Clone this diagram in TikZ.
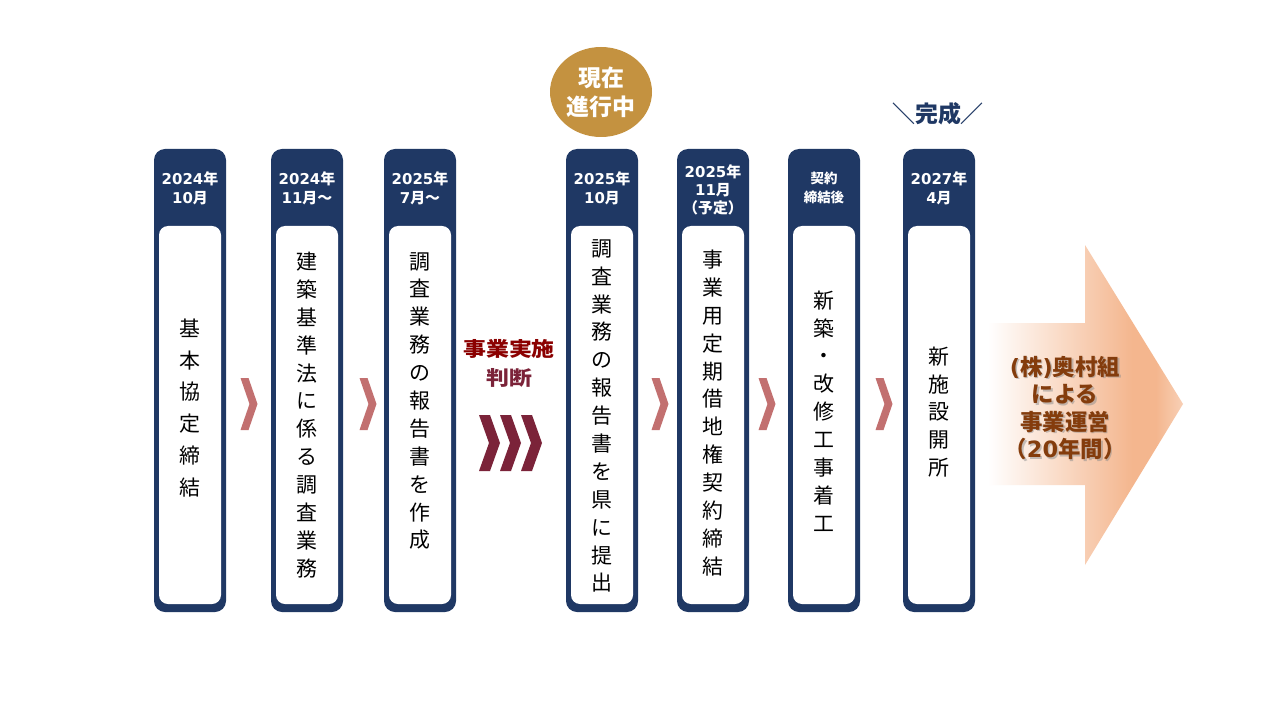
\documentclass[tikz,border=0pt]{standalone}
\usepackage{fontspec}
\setmainfont{Noto Sans CJK JP}
\newfontfamily\dv{DejaVu Sans}
\usetikzlibrary{shapes.geometric,calc}
\definecolor{navy}{RGB}{31,56,100}
\definecolor{chevcol}{RGB}{194,112,112}
\definecolor{maroon}{RGB}{123,35,57}
\definecolor{darkred}{RGB}{139,0,0}
\definecolor{gold}{RGB}{196,146,64}
\definecolor{brownt}{RGB}{132,60,12}
\definecolor{peach}{RGB}{244,182,142}
\definecolor{peachlight}{RGB}{248,208,182}
\pgfdeclarehorizontalshading{arrowshade}{100bp}{color(0bp)=(white); color(25bp)=(white); color(62bp)=(peach); color(68bp)=(peach); color(75bp)=(peachlight); color(100bp)=(peachlight)}
\newcommand{\dg}[1]{{\dv\bfseries #1}}
\tikzset{
  colbox/.style={draw=none, fill=navy, rounded corners=11bp, minimum width=72bp, minimum height=463bp, inner sep=0pt},
  innerbox/.style={draw=none, fill=white, rounded corners=9bp, minimum width=62bp, minimum height=378bp, inner sep=0pt},
  headtxt/.style={text=white, font=\bfseries\fontsize{15}{19}\selectfont, align=center, inner sep=0pt},
  bodytxt/.style={text=black, font=\fontsize{21}{28}\selectfont, align=center, inner sep=0pt},
  arrowtxt/.style={align=center, font=\bfseries\fontsize{22.5}{27.5}\selectfont, inner sep=0pt},
  smallchev/.pic={\fill[chevcol] (-8.5,-26) -- (-0.5,-26) -- (8.5,0) -- (-0.5,26) -- (-8.5,26) -- (0.5,0) -- cycle;},
  bigchev/.pic={\fill[maroon] (-11,-28) -- (0,-28) -- (10,0) -- (0,28) -- (-11,28) -- (-1,0) -- cycle;},
}
\begin{document}
\begin{tikzpicture}[x=1bp,y=-1bp]
\useasboundingbox (0,0) rectangle (1280,720);
\fill[white] (0,0) rectangle (1280,720);

% columns
\foreach \n/\x in {1/190,2/307,3/420,4/602,5/713,6/824,7/939}{
  \node[colbox] (c\n) at (\x,380.5) {};
  \node[innerbox] (w\n) at (\x,415) {};
}

% headers
\node[headtxt] (h1) at (190,188) {\dg{2024}年\\\dg{10}月};
\node[headtxt] (h2) at (307,188) {\dg{2024}年\\\dg{11}月～};
\node[headtxt] (h3) at (420,188) {\dg{2025}年\\\dg{7}月～};
\node[headtxt] (h4) at (602,188) {\dg{2025}年\\\dg{10}月};
\node[headtxt, font=\bfseries\fontsize{15}{18}\selectfont] (h5) at (713,190) {\dg{2025}年\\\dg{11}月\\（予定）};
\node[headtxt, font=\bfseries\fontsize{13.5}{19}\selectfont] (h6) at (824,188) {契約\\締結後};
\node[headtxt] (h7) at (939,188) {\dg{2027}年\\\dg{4}月};

% bodies
\node[bodytxt, font=\fontsize{21}{32}\selectfont] (b1) at (190,408) {基\\本\\協\\定\\締\\結};
\node[bodytxt] (b2) at (307,415) {建\\築\\基\\準\\法\\に\\係\\る\\調\\査\\業\\務};
\node[bodytxt] (b3) at (420,401) {調\\査\\業\\務\\の\\報\\告\\書\\を\\作\\成};
\node[bodytxt] (b4) at (602,416) {調\\査\\業\\務\\の\\報\\告\\書\\を\\県\\に\\提\\出};
\node[bodytxt] (b5) at (713,413) {事\\業\\用\\定\\期\\借\\地\\権\\契\\約\\締\\結};
\node[bodytxt] (b6) at (824,411) {新\\築\\・\\改\\修\\工\\事\\着\\工};
\node[bodytxt] (b7) at (939,412) {新\\施\\設\\開\\所};

% small chevrons between columns
\foreach \x in {249,368,660,767,884}{
  \pic at (\x,404) {smallchev};
}

% decision
\node[font=\bfseries\fontsize{20}{24}\selectfont, text=darkred, inner sep=0pt, xscale=1.15, transform shape] (d1) at (509,349) {事業実施};
\node[font=\bfseries\fontsize{20}{24}\selectfont, text=maroon, inner sep=0pt, xscale=1.15, transform shape] (d2) at (509,378) {判断};
\foreach \x in {490,511,532}{
  \pic at (\x,443) {bigchev};
}

% current
\node[ellipse, fill=gold, minimum width=102bp, minimum height=90bp, inner sep=0pt, text=white, align=center, font=\bfseries\fontsize{23}{29}\selectfont] (now) at (601,92) {現在\\進行中};

% completion
\node[text=navy, font=\bfseries\fontsize{23}{24}\selectfont, inner sep=0pt] (done) at (938,114) {＼完成／};

% big arrow
\shade[shading=arrowshade] (988,323) -- (1085,323) -- (1085,245) -- (1183,404) -- (1085,565) -- (1085,485) -- (988,485) -- cycle;
\node[arrowtxt, text=black!45, opacity=0.5] (ops) at (1066.5,409.5) {\dg{(}株\dg{)}奥村組\\による\\事業運営\\（\dg{20}年間）};
\node[arrowtxt, text=brownt] (op) at (1065,408) {\dg{(}株\dg{)}奥村組\\による\\事業運営\\（\dg{20}年間）};
\end{tikzpicture}
\end{document}
